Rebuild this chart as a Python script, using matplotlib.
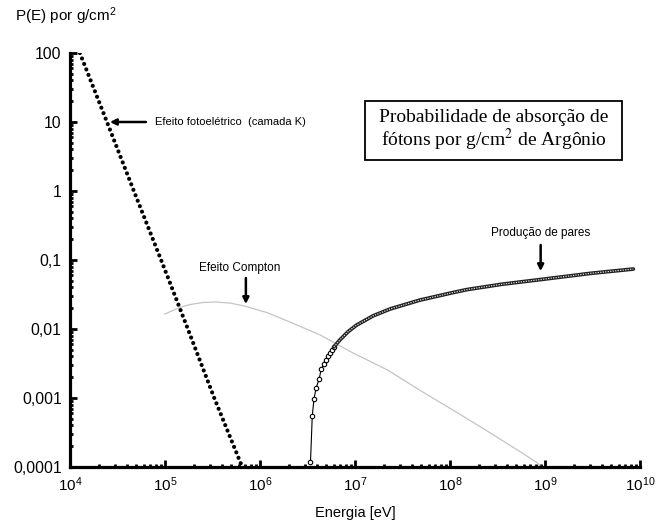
import matplotlib
matplotlib.use("Agg")
import matplotlib.pyplot as plt
from matplotlib.patches import Rectangle

plt.rcParams['font.family'] = ['Liberation Sans', 'DejaVu Sans']
plt.rcParams['mathtext.fontset'] = 'custom'
plt.rcParams['mathtext.rm'] = 'Liberation Sans'
plt.rcParams['mathtext.it'] = 'Liberation Sans:italic'

# ---- data ----
# efeito fotoeletrico (camada K)
foto_E = [1.27e4, 2.45e4, 4.7e4, 9.1e4, 1.74e5, 3.3e5, 6.5e5]
foto_P = [100, 10, 1, 0.1, 0.01, 0.001, 0.0001]

# efeito Compton
compton_E = [1.0e5, 1.4e5, 1.8e5, 2.5e5, 3.4e5, 4.8e5, 6.9e5, 1.2e6, 2.1e6,
             4.3e6, 9.5e6, 2.2e7, 4.8e7, 1.07e8, 2.4e8, 5.5e8, 8.3e8, 9.0e8]
compton_P = [0.0165, 0.0203, 0.0225, 0.0242, 0.0246, 0.0238, 0.0215, 0.0172,
             0.0125, 0.0082, 0.0045, 0.00255, 0.0013, 0.00067, 0.00034,
             0.000166, 0.000115, 0.0001]

# producao de pares - pontos isolados perto do limiar
pares_lim_E = [3.4e6, 3.55e6, 3.7e6, 3.9e6, 4.2e6, 4.4e6, 4.7e6, 4.9e6, 5.2e6,
               5.4e6, 5.7e6, 6.0e6]
pares_lim_P = [1.18e-4, 5.5e-4, 9.7e-4, 1.4e-3, 1.9e-3, 2.6e-3, 3.1e-3, 3.5e-3,
               4.0e-3, 4.5e-3, 5.0e-3, 5.5e-3]
# producao de pares - parte densa
pares_E = [6.0e6, 6.9e6, 8.5e6, 1.04e7, 1.55e7, 2.34e7, 4.8e7, 1.0e8, 1.5e8,
           3.5e8, 8.9e8, 3.0e9, 8.5e9]
pares_P = [5.5e-3, 6.9e-3, 9.2e-3, 0.0114, 0.0155, 0.0195, 0.0262, 0.033,
           0.0372, 0.0445, 0.052, 0.064, 0.074]

x_ticks = [1e4, 1e5, 1e6, 1e7, 1e8, 1e9, 1e10]
y_ticks = [1e-4, 1e-3, 1e-2, 1e-1, 1, 10, 100]
y_labels = ["0,0001", "0,001", "0,01", "0,1", "1", "10", "100"]

fig = plt.figure(figsize=(6.57, 5.29), dpi=100)
ax = fig.add_axes([70 / 657, 1 - 467 / 529, 570 / 657, 414 / 529])
ax.set_xscale('log')
ax.set_yscale('log')
ax.set_xlim(1e4, 1e10)
ax.set_ylim(1e-4, 100)

# fotoeletrico: linha pontilhada grossa
ax.plot(foto_E, foto_P, color='black', lw=3.0, ls=(0, (0.01, 1.4)),
        dash_capstyle='round', zorder=3)

# Compton
ax.plot(compton_E, compton_P, color='#c4c4c4', lw=0.9, zorder=2)

# pares
ax.plot(pares_lim_E, pares_lim_P, color='black', lw=0.8, marker='o', ms=3.2,
        mfc='white', mec='black', mew=0.8, zorder=3)
ax.plot(pares_E, pares_P, color='#202020', lw=2.7, solid_capstyle='round',
        zorder=3)
ax.plot(pares_E, pares_P, color='#e0e0e0', lw=0.9, ls=(0, (1.0, 1.0)), zorder=4)

# eixos
for s in ['top', 'right']:
    ax.spines[s].set_visible(False)
for s in ['left', 'bottom']:
    ax.spines[s].set_linewidth(2.3)
ax.tick_params(which='major', direction='in', length=5, width=2.0, pad=6)
ax.tick_params(axis='y', which='major', labelsize=11.3)
ax.tick_params(axis='x', which='major', labelsize=11)
ax.tick_params(which='minor', direction='in', length=2.5, width=2.0)
ax.set_xticks(x_ticks)
ax.set_yticks(y_ticks)
ax.set_yticklabels(y_labels)
ax.yaxis.set_minor_locator(matplotlib.ticker.LogLocator(base=10, subs=range(2, 10), numticks=20))
ax.xaxis.set_minor_locator(matplotlib.ticker.LogLocator(base=10, subs=range(2, 10), numticks=20))
ax.yaxis.set_minor_formatter(matplotlib.ticker.NullFormatter())
ax.xaxis.set_minor_formatter(matplotlib.ticker.NullFormatter())

ax.set_xlabel("Energia [eV]", fontsize=10.5, labelpad=9)
fig.text(15 / 657, 1 - 16 / 529, "P(E) por g/cm$^2$", fontsize=11,
         ha='left', va='center')

# anotacoes
arrow = dict(arrowstyle='-|>', color='black', lw=1.8, mutation_scale=9,
             shrinkA=0, shrinkB=0)
ax.annotate("", xy=(2.63e4, 10), xytext=(6.3e4, 10), arrowprops=arrow)
ax.text(7.85e4, 10, "Efeito fotoelétrico  (camada K)", fontsize=8,
        ha='left', va='center')

ax.annotate("", xy=(7.1e5, 0.023), xytext=(7.1e5, 0.0548), arrowprops=arrow)
ax.text(6.1e5, 0.0766, "Efeito Compton", fontsize=8.5, ha='center', va='center')

ax.annotate("", xy=(9.0e8, 0.069), xytext=(9.0e8, 0.165), arrowprops=arrow)
ax.text(9.1e8, 0.246, "Produção de pares", fontsize=8.5, ha='center',
        va='center')

# caixa do titulo
fig.text(493.5 / 657, 1 - 131 / 529,
         "Probabilidade de absorção de\nfótons por g/cm$^2$ de Argônio",
         ha='center', va='center', fontsize=14, family='Liberation Serif',
         math_fontfamily='stix', linespacing=1.0)
fig.patches.append(Rectangle((365 / 657, 1 - 160 / 529), 257 / 657, 59 / 529,
                             transform=fig.transFigure, fill=False,
                             ec='black', lw=1.3))

fig.savefig("out.png", dpi=100)
